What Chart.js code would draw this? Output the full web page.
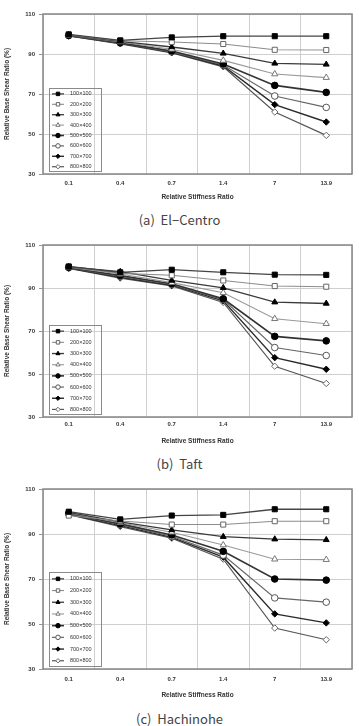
<!DOCTYPE html>
<html>
<head>
<meta charset="utf-8">
<script src="https://cdn.jsdelivr.net/npm/chart.js@4/dist/chart.umd.min.js"></script>
<style>
body { margin: 0; background: #fff; width: 359px; height: 726px; position: relative; overflow: hidden; }
.panel { position: absolute; left: 0; }
.caption { position: absolute; left: 0; width: 359px; text-align: center; white-space: pre;
  font-family: "Noto Sans CJK KR", "Noto Sans", sans-serif; font-size: 13px; line-height: 16px; color: #444; }
</style>
</head>
<body>
<canvas id="chartA" class="panel"></canvas>
<canvas id="chartB" class="panel"></canvas>
<canvas id="chartC" class="panel"></canvas>
<div id="capA" class="caption">(a)  El−Centro</div>
<div id="capB" class="caption">(b)  Taft</div>
<div id="capC" class="caption">(c)  Hachinohe</div>
<script>
// categorias (eje x) y etiquetas de series
const stiffness = ['0.1', '0.4', '0.7', '1.4', '7', '13.9'];
const sections = ['100×100', '200×200', '300×300', '400×400', '500×500', '600×600', '700×700', '800×800'];
const yTicks = [30, 50, 70, 90, 110];

// (a) El-Centro
const elCentro100 = [99.8, 96.8, 98.3, 98.9, 98.9, 98.9];
const elCentro200 = [99.6, 96.6, 96.0, 95.0, 92.1, 92.0];
const elCentro300 = [99.5, 96.3, 93.5, 90.3, 85.3, 84.8];
const elCentro400 = [99.4, 96.0, 92.4, 86.8, 80.0, 78.2];
const elCentro500 = [99.3, 95.7, 91.5, 85.0, 74.3, 70.8];
const elCentro600 = [99.2, 95.5, 91.1, 84.5, 69.0, 63.3];
const elCentro700 = [99.1, 95.3, 90.8, 84.0, 64.7, 56.0];
const elCentro800 = [99.0, 95.1, 90.6, 83.6, 61.0, 49.3];

// (b) Taft
const taft100 = [100.0, 97.3, 98.5, 97.3, 96.2, 96.1];
const taft200 = [99.9, 96.8, 95.9, 93.5, 90.9, 90.6];
const taft300 = [99.8, 97.6, 93.5, 90.1, 83.4, 82.8];
const taft400 = [99.7, 96.5, 92.5, 87.8, 75.7, 73.4];
const taft500 = [99.6, 95.8, 92.0, 85.0, 67.5, 65.4];
const taft600 = [99.5, 95.4, 91.7, 84.6, 62.3, 58.6];
const taft700 = [99.3, 95.0, 91.3, 84.0, 57.6, 52.2];
const taft800 = [99.1, 94.6, 91.0, 83.3, 53.6, 45.6];

// (c) Hachinohe
const hachinohe100 = [99.9, 96.5, 98.2, 98.5, 101.0, 101.0];
const hachinohe200 = [98.2, 95.8, 94.2, 94.2, 95.7, 95.7];
const hachinohe300 = [99.6, 95.4, 91.8, 88.8, 87.7, 87.4];
const hachinohe400 = [99.4, 95.0, 90.8, 85.1, 78.8, 78.6];
const hachinohe500 = [99.2, 94.5, 89.6, 82.3, 70.0, 69.5];
const hachinohe600 = [99.0, 94.1, 89.0, 80.6, 61.6, 59.7];
const hachinohe700 = [98.8, 93.7, 88.5, 79.7, 54.5, 50.5];
const hachinohe800 = [98.6, 93.3, 88.1, 78.8, 48.2, 43.0];

// estilo de cada serie (marcador y linea)
const seriesStyles = [
    { pointStyle: 'rect', fill: '#000', border: '#000', line: '#444', r: 3.6, w: 1.3 },
    { pointStyle: 'rect', fill: '#fff', border: '#666', line: '#8c8c8c', r: 3.6, w: 1.1 },
    { pointStyle: 'triangle', fill: '#000', border: '#000', line: '#3a3a3a', r: 3.4, w: 1.3 },
    { pointStyle: 'triangle', fill: '#fff', border: '#777', line: '#999', r: 3.6, w: 1.1 },
    { pointStyle: 'circle', fill: '#000', border: '#000', line: '#333', r: 3.3, w: 1.6 },
    { pointStyle: 'circle', fill: '#fff', border: '#555', line: '#666', r: 3.3, w: 1.2 },
    { pointStyle: 'rectRot', fill: '#000', border: '#000', line: '#2a2a2a', r: 3.2, w: 1.4 },
    { pointStyle: 'rectRot', fill: '#fff', border: '#666', line: '#555', r: 3.2, w: 1.2 }
];

Chart.defaults.font.family = '"Liberation Sans", Arial, sans-serif';
Chart.defaults.color = '#333';

// marco del area de la grafica
const plotFrame = {
    id: 'plotFrame',
    beforeDatasetsDraw(chart) {
        const { ctx, chartArea: a } = chart;
        ctx.save();
        ctx.strokeStyle = '#868686';
        ctx.lineWidth = 1.5;
        ctx.strokeRect(a.left, a.top, a.right - a.left, a.bottom - a.top);
        ctx.restore();
    }
};

// leyenda en una caja dentro del area (abajo a la izquierda)
const boxLegend = {
    id: 'boxLegend',
    afterDatasetsDraw(chart) {
        const { ctx, chartArea: a } = chart;
        const h = a.bottom - a.top;
        const top = Math.round(a.bottom - 0.537 * h);
        const bottom = Math.round(a.bottom - 3);
        const left = a.left + 6;
        const right = a.left + 58;
        const row = 0.065 * h;
        ctx.save();
        ctx.strokeStyle = '#8a8a8a';
        ctx.lineWidth = 1;
        ctx.strokeRect(left + 0.5, top + 0.5, right - left, bottom - top);
        const first = top + (bottom - top - 7 * row) / 2 + 0.8;
        chart.data.datasets.forEach((ds, i) => {
            const y = first + i * row;
            ctx.strokeStyle = ds.borderColor;
            ctx.lineWidth = ds.borderWidth;
            ctx.beginPath();
            ctx.moveTo(left + 3, y);
            ctx.lineTo(left + 15, y);
            ctx.stroke();
            ctx.fillStyle = ds.pointBackgroundColor;
            ctx.strokeStyle = ds.pointBorderColor;
            ctx.lineWidth = 1;
            Chart.helpers.drawPoint(ctx, { pointStyle: ds.pointStyle, radius: ds.pointRadius * 0.68, rotation: 0, borderWidth: 1 }, left + 9, y);
            ctx.fillStyle = '#333';
            ctx.font = '5.5px "Liberation Sans", Arial, sans-serif';
            ctx.textBaseline = 'middle';
            ctx.textAlign = 'left';
            ctx.fillText(ds.label, left + 21, y);
        });
        ctx.restore();
    }
};

function crearGrafica(canvasId, captionId, series, g) {
    const canvas = document.getElementById(canvasId);
    const canvasTop = g.plotTop - 14;
    const height = g.titleY - canvasTop + 8;
    canvas.style.top = canvasTop + 'px';
    canvas.width = 359;
    canvas.height = height;
    canvas.style.width = '359px';
    canvas.style.height = height + 'px';

    const pb = g.plotBottom - canvasTop;
    const ty = g.titleY - canvasTop;
    const xAxisHeight = ty + 3.9 - pb;
    const bottomPad = height - pb - xAxisHeight;
    const tickPad = g.labelY - g.plotBottom - 3.6;

    document.getElementById(captionId).style.top = (g.captionY - 8) + 'px';

    const datasets = series.map((data, i) => {
        const s = seriesStyles[i];
        return {
            label: sections[i],
            data: data,
            borderColor: s.line,
            borderWidth: s.w,
            pointStyle: s.pointStyle,
            pointRadius: s.r,
            pointBackgroundColor: s.fill,
            pointBorderColor: s.border,
            pointBorderWidth: 1,
            tension: 0,
            fill: false
        };
    });

    return new Chart(canvas.getContext('2d'), {
        type: 'line',
        data: { labels: stiffness, datasets: datasets },
        options: {
            responsive: false,
            animation: false,
            devicePixelRatio: 1,
            layout: { padding: { top: 14, left: 0, right: 7, bottom: bottomPad } },
            plugins: { legend: { display: false }, tooltip: { enabled: false } },
            scales: {
                x: {
                    offset: true,
                    grid: { offset: true, color: '#cfcfcf', drawTicks: false },
                    border: { display: false },
                    ticks: { padding: tickPad, maxRotation: 0, autoSkip: false, color: '#333',
                        font: { size: 6, weight: 'bold' } },
                    title: { display: true, text: 'Relative Stiffness Ratio', color: '#333', padding: 0,
                        font: { size: 6.5, weight: 'bold' } },
                    afterFit: s => { s.height = xAxisHeight; }
                },
                y: {
                    min: 30,
                    max: 110,
                    afterBuildTicks: s => { s.ticks = yTicks.map(v => ({ value: v })); },
                    grid: { color: '#cfcfcf', tickLength: 4, tickColor: '#999' },
                    border: { display: false },
                    ticks: { padding: 4, color: '#333', font: { size: 6, weight: 'bold' } },
                    title: { display: true, text: 'Relative Base Shear Ratio (%)', color: '#333',
                        padding: { top: 3, bottom: 0 }, font: { size: 6.5, weight: 'bold' } },
                    afterFit: s => { s.width = 43; }
                }
            }
        },
        plugins: [plotFrame, boxLegend]
    });
}

crearGrafica('chartA', 'capA',
    [elCentro100, elCentro200, elCentro300, elCentro400, elCentro500, elCentro600, elCentro700, elCentro800],
    { plotTop: 14, plotBottom: 174, labelY: 183, titleY: 197, captionY: 220 });

crearGrafica('chartB', 'capB',
    [taft100, taft200, taft300, taft400, taft500, taft600, taft700, taft800],
    { plotTop: 245, plotBottom: 417, labelY: 424, titleY: 441, captionY: 464 });

crearGrafica('chartC', 'capC',
    [hachinohe100, hachinohe200, hachinohe300, hachinohe400, hachinohe500, hachinohe600, hachinohe700, hachinohe800],
    { plotTop: 489, plotBottom: 669, labelY: 679, titleY: 695, captionY: 719 });
</script>
</body>
</html>
